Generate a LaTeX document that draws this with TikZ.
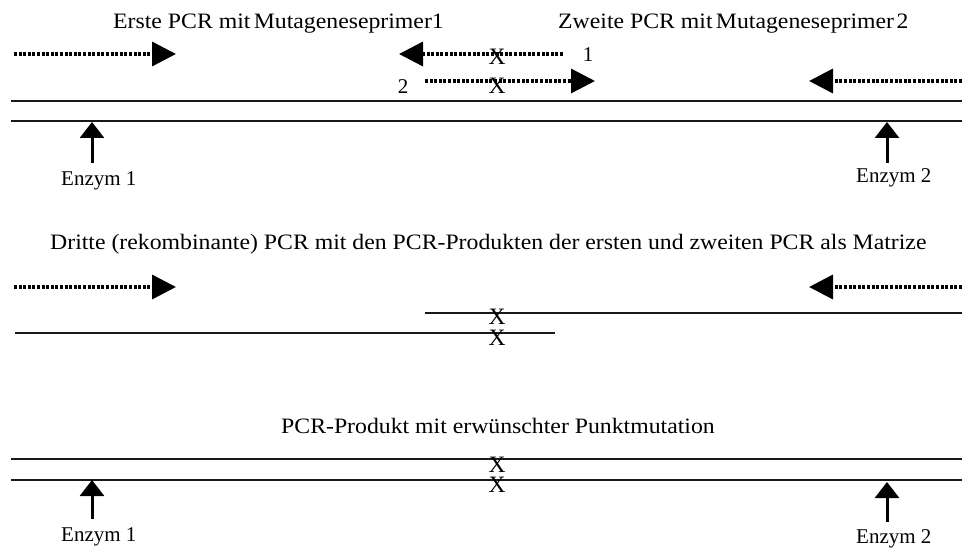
\documentclass[tikz,border=0pt]{standalone}
\usepackage{fontspec}
\setmainfont{Liberation Serif}
\newfontfamily\headfont[FakeStretch=1.08]{Liberation Serif}
\usetikzlibrary{arrows.meta}
\begin{document}
\begin{tikzpicture}[x=1pt,y=-1pt,
  strand/.style={line width=1.4pt, draw=black!90},
  primer/.style={line width=3.4pt, dash pattern=on 3pt off 1.6pt,
    -{Triangle[length=24pt,width=24pt]}},
  enzarrow/.style={line width=3pt, -{Triangle[length=16pt,width=24pt]}},
  headtext/.style={anchor=base west, inner sep=0pt,
    font=\headfont\fontsize{22}{26}\selectfont},
  enzlabel/.style={anchor=base west, inner sep=0pt,
    font=\fontsize{21}{25}\selectfont},
  numtext/.style={anchor=base, inner sep=0pt,
    font=\fontsize{21}{25}\selectfont},
  mut/.style={anchor=base, inner sep=0pt, text height=15pt, text depth=0pt,
    font=\fontsize{23.5}{28}\selectfont},
]
\useasboundingbox (0,0) rectangle (962,548);

% ---------- first and second PCR ----------
\node[headtext] (t1) at (113,29) {Erste PCR mit\hspace{0.15em}Mutageneseprimer1};
\node[headtext] (t2) at (558,29) {Zweite PCR mit\hspace{0.15em}Mutageneseprimer\hspace{0.12em}2};

\coordinate (p1s) at (14,54);   \coordinate (p1e) at (176,54);
\coordinate (m1s) at (563,54);  \coordinate (m1e) at (399,54);
\coordinate (m2s) at (425,81);  \coordinate (m2e) at (595,81);
\coordinate (p2s) at (962,81);  \coordinate (p2e) at (809,81);
\draw[primer] (p1s) -- (p1e);
\draw[primer] (m1s) -- (m1e);
\draw[primer] (m2s) -- (m2e);
\draw[primer] (p2s) -- (p2e);

\node[mut] (x1) at (497,65) {X};
\node[mut] (x2) at (497,94) {X};
\node[numtext] (n1) at (588,62) {1};
\node[numtext] (n2) at (403,94) {2};

\coordinate (s1a) at (11,101);  \coordinate (s1b) at (962,101);
\coordinate (s2a) at (11,121);  \coordinate (s2b) at (962,121);
\draw[strand] (s1a) -- (s1b);
\draw[strand] (s2a) -- (s2b);

\coordinate (e1s) at (92,163);  \coordinate (e1t) at (92,122);
\coordinate (e2s) at (887,163); \coordinate (e2t) at (887,122);
\draw[enzarrow] (e1s) -- (e1t);
\draw[enzarrow] (e2s) -- (e2t);
\node[enzlabel] (enz1) at (61,186) {Enzym 1};
\node[enzlabel] (enz2) at (856,183) {Enzym 2};

% ---------- third (recombinant) PCR ----------
\node[headtext] (t3) at (50,250) {Dritte (rekombinante) PCR mit den PCR-Produkten der ersten und zweiten PCR als Matrize};

\coordinate (p3s) at (14,287);  \coordinate (p3e) at (176,287);
\coordinate (p4s) at (962,287); \coordinate (p4e) at (809,287);
\draw[primer] (p3s) -- (p3e);
\draw[primer] (p4s) -- (p4e);

\coordinate (r1a) at (425,313); \coordinate (r1b) at (962,313);
\coordinate (r2a) at (15,333);  \coordinate (r2b) at (555,333);
\draw[strand] (r1a) -- (r1b);
\draw[strand] (r2a) -- (r2b);
\node[mut] (x3) at (497,325) {X};
\node[mut] (x4) at (497,345) {X};

% ---------- final product ----------
\node[headtext] (t4) at (281,433) {PCR-Produkt mit erwünschter Punktmutation};

\coordinate (f1a) at (11,459);  \coordinate (f1b) at (962,459);
\coordinate (f2a) at (11,480);  \coordinate (f2b) at (962,480);
\draw[strand] (f1a) -- (f1b);
\draw[strand] (f2a) -- (f2b);
\node[mut] (x5) at (497,472) {X};
\node[mut] (x6) at (497,492) {X};

\coordinate (e3s) at (92,519);  \coordinate (e3t) at (92,480);
\coordinate (e4s) at (887,522); \coordinate (e4t) at (887,482);
\draw[enzarrow] (e3s) -- (e3t);
\draw[enzarrow] (e4s) -- (e4t);
\node[enzlabel] (enz3) at (61,541) {Enzym 1};
\node[enzlabel] (enz4) at (856,543) {Enzym 2};
\end{tikzpicture}
\end{document}
